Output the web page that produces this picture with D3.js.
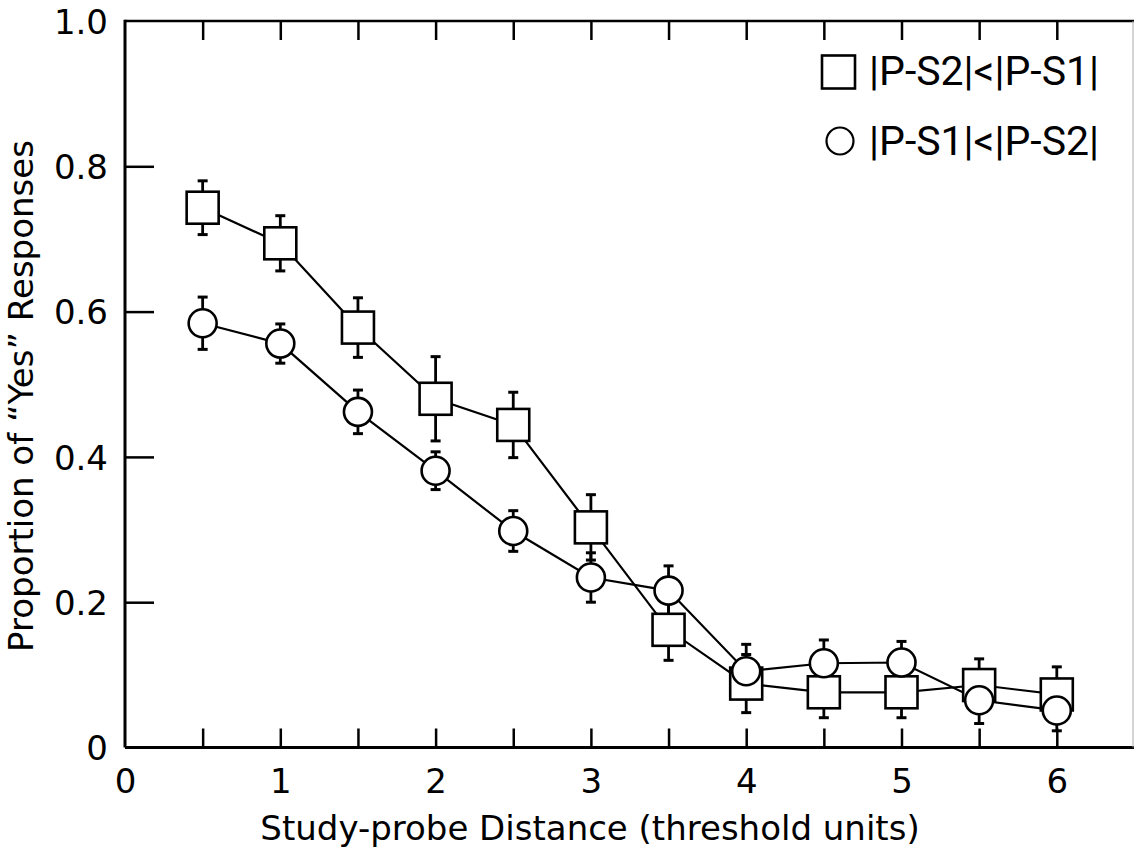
<!DOCTYPE html>
<html>
<head>
<meta charset="utf-8">
<script src="https://cdn.jsdelivr.net/npm/d3@7"></script>
<style>
  html, body { margin: 0; padding: 0; background: #fff; }
  svg { display: block; }
</style>
</head>
<body>
<script>
// ---- data ----
const distances = [0.5, 1, 1.5, 2, 2.5, 3, 3.5, 4, 4.5, 5, 5.5, 6];
const squareMeans = [0.743, 0.694, 0.578, 0.480, 0.444, 0.303, 0.162, 0.088, 0.076, 0.076, 0.086, 0.073];
const squareErrs  = [0.037, 0.038, 0.041, 0.058, 0.045, 0.045, 0.042, 0.040, 0.035, 0.035, 0.036, 0.038];
const circleMeans = [0.584, 0.556, 0.462, 0.381, 0.298, 0.234, 0.216, 0.105, 0.116, 0.117, 0.065, 0.051];
const circleErrs  = [0.036, 0.027, 0.030, 0.026, 0.028, 0.034, 0.034, 0.037, 0.032, 0.029, 0.032, 0.028];
const xTickLabels = [0, 1, 2, 3, 4, 5, 6];
const xMinorTicks = [0.5, 1, 1.5, 2, 2.5, 3, 3.5, 4, 4.5, 5, 5.5, 6];
const yTicks = [0, 0.2, 0.4, 0.6, 0.8, 1.0];
const legendLabels = ["|P-S2|<|P-S1|", "|P-S1|<|P-S2|"];
const xTitle = "Study-probe Distance (threshold units)";
const yTitle = "Proportion of \u201CYes\u201D Responses";

(function () {
// ---- layout ----
const W = 1134, H = 859;
const mLeft = 125, mRight = 1133, mTop = 21, mBottom = 747.5;
const pxPerUnit = 155.3;

const x = d3.scaleLinear().domain([0, (mRight - mLeft) / pxPerUnit]).range([mLeft, mRight]);
const y = d3.scaleLinear().domain([0, 1]).range([mBottom, mTop]);

const svg = d3.select("body").append("svg").attr("width", W).attr("height", H);
svg.append("rect").attr("width", W).attr("height", H).attr("fill", "#fff");

const tickFont = "DejaVu Sans, sans-serif";

// bottom axis (ticks inward)
const xAxisB = d3.axisBottom(x).tickValues(xMinorTicks).tickSize(-19).tickFormat("");
const gB = svg.append("g").attr("transform", `translate(0,${mBottom})`).call(xAxisB);
gB.select(".domain").remove();
gB.selectAll(".tick line").attr("stroke", "#000").attr("stroke-width", 2.5);
gB.append("line").attr("x1", mLeft).attr("x2", W).attr("y1", 0).attr("y2", 0)
  .attr("stroke", "#000").attr("stroke-width", 3);

// bottom labels
const xAxisL = d3.axisBottom(x).tickValues(xTickLabels).tickSize(0).tickPadding(0).tickFormat(d3.format("d"));
const gL = svg.append("g").attr("transform", `translate(0,${mBottom})`).call(xAxisL);
gL.select(".domain").remove();
gL.selectAll(".tick text").attr("font-family", tickFont).attr("font-size", 34)
  .attr("fill", "#000").attr("y", 45.5).attr("dy", null);

// top axis (ticks inward)
const xAxisT = d3.axisTop(x).tickValues(xMinorTicks).tickSize(-19).tickFormat("");
const gT = svg.append("g").attr("transform", `translate(0,${mTop})`).call(xAxisT);
gT.select(".domain").remove();
gT.selectAll(".tick line").attr("stroke", "#000").attr("stroke-width", 2.5);
gT.append("line").attr("x1", mLeft).attr("x2", W).attr("y1", 0).attr("y2", 0)
  .attr("stroke", "#000").attr("stroke-width", 2.5);

// left axis
const yAxis = d3.axisLeft(y).tickValues(yTicks).tickSize(-29).tickPadding(0)
  .tickFormat(d => d === 0 ? "0" : d3.format(".1f")(d));
const gY = svg.append("g").attr("transform", `translate(${mLeft},0)`).call(yAxis);
gY.select(".domain").remove();
gY.selectAll(".tick line").attr("stroke", "#000").attr("stroke-width", 2.5)
  .filter(d => d === 0 || d === 1).remove();
gY.selectAll(".tick text").attr("font-family", tickFont).attr("font-size", 34)
  .attr("fill", "#000").attr("x", -17).attr("dy", "0.36em").attr("text-anchor", "end");
gY.append("line").attr("x1", 0).attr("x2", 0).attr("y1", mTop - 1.25).attr("y2", mBottom)
  .attr("stroke", "#000").attr("stroke-width", 3);

// right frame (faint)
svg.append("line").attr("x1", mRight).attr("x2", mRight).attr("y1", mTop).attr("y2", mBottom)
  .attr("stroke", "#aaa").attr("stroke-width", 1);

// axis titles
svg.append("text").attr("x", (262 + 918) / 2).attr("y", 840)
  .attr("text-anchor", "middle").attr("font-family", tickFont).attr("font-size", 34)
  .attr("fill", "#000").text(xTitle);
svg.append("text").attr("transform", `translate(33,396) rotate(-90)`)
  .attr("text-anchor", "middle").attr("font-family", tickFont).attr("font-size", 34)
  .attr("fill", "#000").text(yTitle);

// ---- series ----
const sqData = distances.map((d, i) => ({ x: d, m: squareMeans[i], e: squareErrs[i] }));
const ciData = distances.map((d, i) => ({ x: d, m: circleMeans[i], e: circleErrs[i] }));
const line = d3.line().x(d => x(d.x)).y(d => y(d.m));

function drawErr(data) {
  const g = svg.append("g");
  data.forEach(d => {
    const cx = x(d.x), y1 = y(d.m + d.e), y2 = y(d.m - d.e);
    g.append("line").attr("x1", cx).attr("x2", cx).attr("y1", y1).attr("y2", y2)
      .attr("stroke", "#000").attr("stroke-width", 2.8);
    [y1, y2].forEach(yy => g.append("line").attr("x1", cx - 5).attr("x2", cx + 5)
      .attr("y1", yy).attr("y2", yy).attr("stroke", "#000").attr("stroke-width", 3));
  });
}

svg.append("path").datum(sqData).attr("d", line).attr("fill", "none").attr("stroke", "#000").attr("stroke-width", 2.2);
svg.append("path").datum(ciData).attr("d", line).attr("fill", "none").attr("stroke", "#000").attr("stroke-width", 2.2);
drawErr(sqData);
drawErr(ciData);

const S = 32;
svg.append("g").selectAll("rect").data(sqData).join("rect")
  .attr("x", d => x(d.x) - S / 2).attr("y", d => y(d.m) - S / 2)
  .attr("width", S).attr("height", S)
  .attr("fill", "#fff").attr("stroke", "#000").attr("stroke-width", 2.6);
svg.append("g").selectAll("circle").data(ciData).join("circle")
  .attr("cx", d => x(d.x)).attr("cy", d => y(d.m)).attr("r", 14)
  .attr("fill", "#fff").attr("stroke", "#000").attr("stroke-width", 2.6);

// ---- legend ----
const lg = svg.append("g");
lg.append("rect").attr("x", 822).attr("y", 55.5).attr("width", 33).attr("height", 33)
  .attr("fill", "#fff").attr("stroke", "#000").attr("stroke-width", 2.6);
lg.append("circle").attr("cx", 840).attr("cy", 141).attr("r", 13.5)
  .attr("fill", "#fff").attr("stroke", "#000").attr("stroke-width", 2.2);
lg.selectAll("text").data(legendLabels).join("text")
  .attr("x", 869).attr("y", (d, i) => i === 0 ? 85 : 155)
  .attr("font-family", "Roboto, sans-serif").attr("font-size", 41).attr("fill", "#000")
  .text(d => d);
})();
</script>
</body>
</html>
